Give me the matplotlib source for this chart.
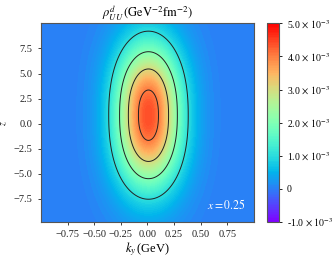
import numpy as np
import matplotlib
matplotlib.use("Agg")
import matplotlib.pyplot as plt
from matplotlib.ticker import FixedLocator, FixedFormatter

plt.rcParams["font.family"] = ["Liberation Serif", "DejaVu Serif"]
plt.rcParams["mathtext.fontset"] = "stix"

# values: fitted shape of the density
PEAK = 4.4e-3          # max of rho at the centre
KY_CENTRE = 0.01       # centre along k_y (GeV)
Z_CENTRE = 0.85        # centre along z
KY_WIDTH = 0.30        # gaussian width along k_y (GeV)
Z_WIDTH = 6.9          # width along z
Z_POWER = 2.3          # shape exponent along z
HALO_FRAC = 0.05       # faint wide halo around the core
HALO_KY_WIDTH = 0.45
HALO_Z_WIDTH = 11.0

KY_RANGE = [-1.0, 1.0]
Z_RANGE = [-9.8, 10.0]
CONTOUR_LEVELS = [1e-3, 2e-3, 3e-3, 4e-3]
CBAR_TICKS = [-1e-3, 0, 1e-3, 2e-3, 3e-3, 4e-3, 5e-3]
CBAR_LABELS = [r"-1.0$\,\times\,10^{-3}$", "0", r"1.0$\,\times\,10^{-3}$", r"2.0$\,\times\,10^{-3}$",
               r"3.0$\,\times\,10^{-3}$", r"4.0$\,\times\,10^{-3}$", r"5.0$\,\times\,10^{-3}$"]
X_TICKS = [-0.75, -0.5, -0.25, 0.0, 0.25, 0.5, 0.75]
Y_TICKS = [-7.5, -5.0, -2.5, 0.0, 2.5, 5.0, 7.5]

ky = np.linspace(KY_RANGE[0], KY_RANGE[1], 400)
z = np.linspace(Z_RANGE[0], Z_RANGE[1], 400)
KY, Z = np.meshgrid(ky, z)
dk = KY - KY_CENTRE
dz = np.abs(Z - Z_CENTRE)
core = np.exp(-(dk / KY_WIDTH) ** 2) * np.exp(-(dz / Z_WIDTH) ** Z_POWER)
halo = np.exp(-(dk / HALO_KY_WIDTH) ** 2) * np.exp(-(dz / HALO_Z_WIDTH) ** 2)
rho = PEAK * ((1 - HALO_FRAC) * core + HALO_FRAC * halo)

fig = plt.figure(figsize=(3.35, 2.6), dpi=100)
ax = fig.add_axes([0.122, 0.146, 0.636, 0.764])
cax = fig.add_axes([0.798, 0.147, 0.036, 0.763])

levels = np.linspace(-1e-3, 5e-3, 121)
cf = ax.contourf(KY, Z, rho, levels=levels, cmap="rainbow", vmin=-1e-3, vmax=5e-3)
ax.contour(KY, Z, rho, levels=CONTOUR_LEVELS, colors="#222222", linewidths=0.7)

ax.set_xlim(KY_RANGE)
ax.set_ylim(Z_RANGE)
ax.set_xticks(X_TICKS)
ax.set_yticks(Y_TICKS)
ax.tick_params(labelsize=7.5, length=2.5, width=0.6, colors="#222222")
for sp in ax.spines.values():
    sp.set_color("#555555")
ax.set_xlabel(r"$k_y\,$(GeV)", fontsize=9, labelpad=1)
ax.set_ylabel(r"$z$", fontsize=7)
ax.yaxis.set_label_coords(-0.15, 0.5)
ax.set_title(r"$\rho^{d}_{UU}\,(\mathrm{GeV}^{-2}\mathrm{fm}^{-2})$", fontsize=9, pad=3)
ax.text(0.745, -8.1, r"$x=0.25$", color="white", fontsize=8.5, ha="center", va="center")

cb = fig.colorbar(cf, cax=cax)
cb.ax.yaxis.set_major_locator(FixedLocator(CBAR_TICKS))
cb.ax.yaxis.set_major_formatter(FixedFormatter(CBAR_LABELS))
cb.ax.tick_params(labelsize=7, length=2, width=0.6)
cb.outline.set_edgecolor("#555555")

fig.savefig("out.png", dpi=100)
